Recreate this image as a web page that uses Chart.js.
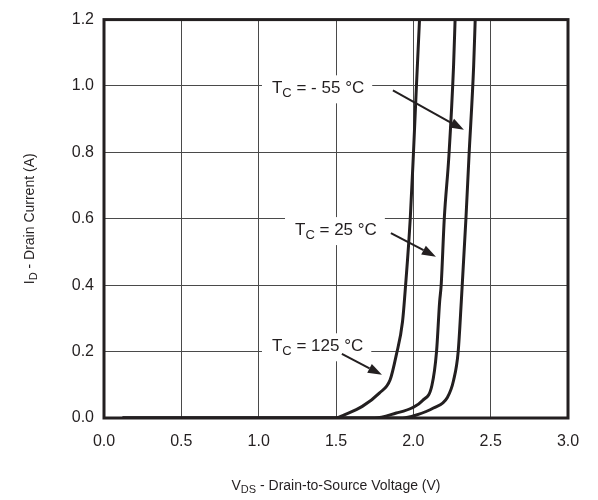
<!DOCTYPE html>
<html>
<head>
<meta charset="utf-8">
<script src="https://cdn.jsdelivr.net/npm/chart.js@4"></script>
<style>
  html, body { margin: 0; padding: 0; background: #fff; }
  #wrap { width: 598px; height: 500px; }
</style>
</head>
<body>
<div id="wrap"><canvas id="chart" width="598" height="500"></canvas></div>
<script>
// curve data (V in volts, I in amps)
const vds125 = [0.12, 1.50, 1.55, 1.67, 1.78, 1.85, 1.89, 1.93, 1.95, 1.98, 2.00, 2.02, 2.04];
const id125  = [0, 0, 0.009, 0.035, 0.075, 0.115, 0.19, 0.29, 0.40, 0.60, 0.79, 1.0, 1.2];

const vds25 = [0.12, 1.75, 1.89, 1.99, 2.06, 2.12, 2.15, 2.17, 2.18, 2.20, 2.23, 2.26, 2.27];
const id25  = [0, 0, 0.015, 0.03, 0.053, 0.098, 0.20, 0.35, 0.40, 0.60, 0.79, 1.06, 1.2];

const vdsM55 = [0.12, 1.93, 2.02, 2.13, 2.22, 2.26, 2.29, 2.31, 2.34, 2.36, 2.39, 2.40];
const idM55  = [0, 0, 0.009, 0.03, 0.062, 0.113, 0.20, 0.35, 0.60, 0.79, 1.06, 1.2];

const xTicks = [0, 0.5, 1.0, 1.5, 2.0, 2.5, 3.0];
const yTicks = [0, 0.2, 0.4, 0.6, 0.8, 1.0, 1.2];

// annotation labels: [main, sub, rest], text anchor (x, y) and arrow (from -> to)
const notes = [
  { sub: 'C', rest: ' = - 55 °C', x: 1.086, y: 0.993, ax: 1.868, ay: 0.987, bx: 2.327, by: 0.868 },
  { sub: 'C', rest: ' = 25 °C',   x: 1.235, y: 0.566, ax: 1.855, ay: 0.557, bx: 2.146, by: 0.486 },
  { sub: 'C', rest: ' = 125 °C',  x: 1.086, y: 0.216, ax: 1.538, ay: 0.193, bx: 1.797, by: 0.130 }
];

const FONT = '"Liberation Sans", Arial, sans-serif';
const INK = '#231f20';

function pts(xs, ys) {
  return xs.map((v, i) => ({ x: v, y: ys[i] }));
}

function curve(xs, ys) {
  return {
    data: pts(xs, ys),
    showLine: true,
    borderColor: INK,
    borderWidth: 3,
    pointRadius: 0,
    cubicInterpolationMode: 'monotone',
    fill: false
  };
}

// draws "main" + subscript + rest starting at x, vertically centred on y
function subText(ctx, x, y, main, sub, rest, size) {
  ctx.textBaseline = 'middle';
  ctx.textAlign = 'left';
  ctx.font = size + 'px ' + FONT;
  ctx.fillText(main, x, y);
  let w = ctx.measureText(main).width;
  ctx.font = Math.round(size * 0.75) + 'px ' + FONT;
  ctx.fillText(sub, x + w, y + size * 0.3);
  w += ctx.measureText(sub).width;
  ctx.font = size + 'px ' + FONT;
  ctx.fillText(rest, x + w, y);
  w += ctx.measureText(rest).width;
  return w;
}

function subWidth(ctx, main, sub, rest, size) {
  ctx.font = size + 'px ' + FONT;
  let w = ctx.measureText(main).width + ctx.measureText(rest).width;
  ctx.font = Math.round(size * 0.75) + 'px ' + FONT;
  return w + ctx.measureText(sub).width;
}

const framePlugin = {
  id: 'frame',
  afterDatasetsDraw(chart) {
    const { ctx, chartArea: a } = chart;
    ctx.save();
    ctx.strokeStyle = INK;
    ctx.lineWidth = 3;
    ctx.strokeRect(a.left, a.top, a.right - a.left, a.bottom - a.top);
    ctx.restore();
  },
  afterDraw(chart) {
    const { ctx, chartArea: a } = chart;
    const xs = chart.scales.x, ys = chart.scales.y;
    ctx.save();
    ctx.fillStyle = INK;
    ctx.strokeStyle = INK;

    // annotations
    notes.forEach(n => {
      const px = xs.getPixelForValue(n.x);
      const py = ys.getPixelForValue(n.y);
      const w = subWidth(ctx, 'T', n.sub, n.rest, 17);
      ctx.fillStyle = '#fff';
      ctx.fillRect(px - 10, py - 13, w + 18, 28);
      ctx.fillStyle = INK;
      subText(ctx, px, py, 'T', n.sub, n.rest, 17);

      const x1 = xs.getPixelForValue(n.ax), y1 = ys.getPixelForValue(n.ay);
      const x2 = xs.getPixelForValue(n.bx), y2 = ys.getPixelForValue(n.by);
      const ang = Math.atan2(y2 - y1, x2 - x1);
      const hl = 14, hw = 5;
      const bxp = x2 - hl * Math.cos(ang), byp = y2 - hl * Math.sin(ang);
      ctx.lineWidth = 2;
      ctx.beginPath();
      ctx.moveTo(x1, y1);
      ctx.lineTo(bxp, byp);
      ctx.stroke();
      ctx.beginPath();
      ctx.moveTo(x2, y2);
      ctx.lineTo(bxp + hw * Math.sin(ang), byp - hw * Math.cos(ang));
      ctx.lineTo(bxp - hw * Math.sin(ang), byp + hw * Math.cos(ang));
      ctx.closePath();
      ctx.fill();
    });

    // axis titles with subscripts
    const tw = subWidth(ctx, 'V', 'DS', ' - Drain-to-Source Voltage (V)', 14);
    subText(ctx, (a.left + a.right) / 2 - tw / 2, 486, 'V', 'DS', ' - Drain-to-Source Voltage (V)', 14);

    const th = subWidth(ctx, 'I', 'D', ' - Drain Current (A)', 14);
    ctx.translate(30, (a.top + a.bottom) / 2);
    ctx.rotate(-Math.PI / 2);
    subText(ctx, -th / 2, 0, 'I', 'D', ' - Drain Current (A)', 14);
    ctx.restore();
  }
};

new Chart(document.getElementById('chart').getContext('2d'), {
  type: 'scatter',
  data: {
    datasets: [curve(vds125, id125), curve(vds25, id25), curve(vdsM55, idM55)]
  },
  options: {
    responsive: false,
    animation: false,
    events: [],
    layout: { padding: { left: 0, right: 30, top: 13, bottom: 0 } },
    plugins: { legend: { display: false }, tooltip: { enabled: false } },
    scales: {
      x: {
        type: 'linear',
        min: 0, max: 3,
        afterFit(scale) { scale.height = 82; },
        afterBuildTicks(scale) { scale.ticks = xTicks.map(v => ({ value: v })); },
        grid: { color: '#4a4a4a', lineWidth: 1, drawTicks: false },
        border: { display: false },
        ticks: {
          padding: 14,
          color: INK,
          font: { family: FONT, size: 16 },
          callback: v => Number(v).toFixed(1)
        }
      },
      y: {
        type: 'linear',
        min: 0, max: 1.2,
        afterFit(scale) { scale.width = 104; },
        afterBuildTicks(scale) { scale.ticks = yTicks.map(v => ({ value: v })); },
        grid: { color: '#4a4a4a', lineWidth: 1, drawTicks: false },
        border: { display: false },
        ticks: {
          padding: 10,
          color: INK,
          font: { family: FONT, size: 16 },
          callback: v => Number(v).toFixed(1)
        }
      }
    }
  },
  plugins: [framePlugin]
});
</script>
</body>
</html>
